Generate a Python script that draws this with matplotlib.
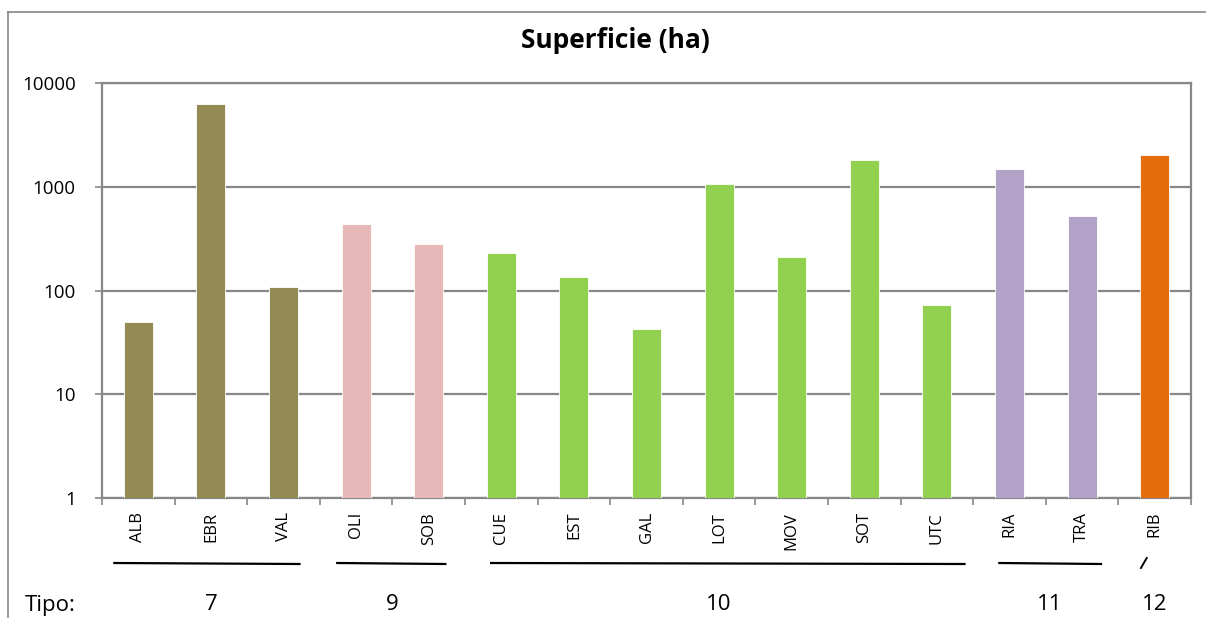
import matplotlib
matplotlib.use("Agg")
import matplotlib.pyplot as plt
import matplotlib.transforms as mtransforms
from matplotlib.lines import Line2D
import numpy as np

plt.rcParams['font.family'] = ['Open Sans', 'DejaVu Sans']

# superficie por humedal (ha), eje log
codes = ["ALB", "EBR", "VAL", "OLI", "SOB", "CUE", "EST", "GAL",
         "LOT", "MOV", "SOT", "UTC", "RIA", "TRA", "RIB"]
area = [50, 6300, 109, 441, 279, 228, 135, 43, 1070, 211, 1800, 73, 1470, 527, 2010]
tipo = [7, 7, 7, 9, 9, 10, 10, 10, 10, 10, 10, 10, 11, 11, 12]

tipo_colors = {7: "#948A54", 9: "#E6B9B8", 10: "#92D050", 11: "#B3A2C7", 12: "#E46C0A"}
# group underline spans (in bar-index units) and label positions
groups = [7, 9, 10, 11, 12]
group_span = [(-0.33, 2.22), (2.74, 4.23), (4.86, 11.38), (11.86, 13.26), (13.81, 13.89)]
group_label_x = [1.0, 3.5, 8.0, 12.55, 14.0]

grey = "#878787"

fig = plt.figure(figsize=(12.06, 6.18), dpi=100)
ax = fig.add_axes([102 / 1206, 1 - 498 / 618, (1191 - 102) / 1206, (498 - 83) / 618])

x = np.arange(len(codes))
ax.bar(x, area, width=0.4, color=[tipo_colors[t] for t in tipo],
       edgecolor="white", linewidth=0.6, zorder=3)

ax.set_yscale("log")
ax.set_ylim(1, 10000)
ax.set_xlim(-0.5, len(codes) - 0.5)
ax.set_yticks([1, 10, 100, 1000, 10000])
ax.set_yticklabels(["1", "10", "100", "1000", "10000"])
ax.yaxis.set_minor_locator(matplotlib.ticker.NullLocator())
ax.grid(axis="y", color=grey, linewidth=1.6, zorder=0)

ax.set_xticks(x)
ax.set_xticklabels(codes, rotation=90, fontsize=12)
ax.set_xticks(np.arange(-0.5, len(codes)), minor=True)
ax.tick_params(axis="x", which="major", length=0, pad=10)
ax.tick_params(axis="x", which="minor", length=5, color=grey, width=1.2)
ax.tick_params(axis="y", length=5, color=grey, width=1.2, labelsize=13.5, pad=14)

for s in ax.spines.values():
    s.set_color(grey)
    s.set_linewidth(1.6)

# title sits centred on the whole chart frame, not the plot area
fig.text(615 / 1206, 1 - 40 / 618, "Superficie (ha)", ha="center", va="center",
         fontsize=19, fontweight="bold")

# tipo grouping under the axis
trans = mtransforms.blended_transform_factory(ax.transData, fig.transFigure)
for g, (x0, x1), lx in zip(groups, group_span, group_label_x):
    if g == 12:
        fig.add_artist(Line2D([x0, x1], [1 - 568 / 618, 1 - 558 / 618],
                              transform=trans, color="black", linewidth=1.4))
    else:
        fig.add_artist(Line2D([x0, x1], [1 - 563 / 618, 1 - 564 / 618],
                              transform=trans, color="black", linewidth=1.6))
    fig.text(lx, 1 - 605 / 618, str(g), transform=trans, ha="center",
             va="center", fontsize=16)
fig.text(25 / 1206, 1 - 605 / 618, "Tipo:", ha="left", va="center", fontsize=16)

# outer chart frame
fig.add_artist(Line2D([8 / 1206, 1], [1 - 12 / 618, 1 - 12 / 618],
                      transform=fig.transFigure, color=grey, linewidth=1.2))
fig.add_artist(Line2D([8 / 1206, 8 / 1206], [0, 1 - 12 / 618],
                      transform=fig.transFigure, color=grey, linewidth=1.2))

fig.savefig("out.png", dpi=100)
